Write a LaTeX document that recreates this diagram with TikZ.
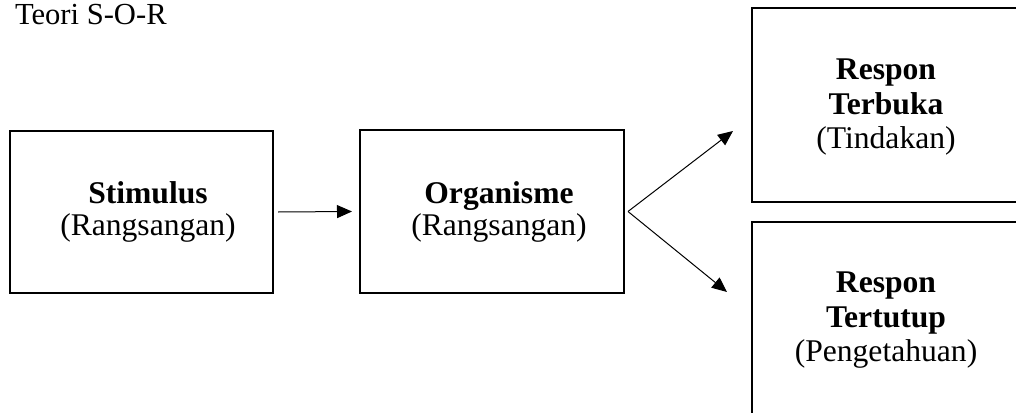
\documentclass[tikz,border=0pt]{standalone}
\usepackage{fontspec}
\setmainfont{Liberation Serif}
\usetikzlibrary{arrows.meta}
\begin{document}
\begin{tikzpicture}[x=1pt,y=-1pt,
  box/.style={draw=black,line width=2pt,minimum width=#1,inner sep=0pt,outer sep=0pt},
  txt/.style={anchor=base,inner sep=0pt,outer sep=0pt,font=\fontsize{31.6}{36}\selectfont},
  arr/.style={line width=1pt,-{Triangle[length=15pt,width=13pt]}}]
\useasboundingbox (0,0) rectangle (1016,412);
% title
\node[txt,anchor=base west,font=\fontsize{30.6}{36}\selectfont] (title) at (15,25) {Teori S-O-R};
% boxes
\node[box=263pt,minimum height=162pt] (stim) at (141.5,212) {};
\node[box=264pt,minimum height=163pt] (org) at (492,211.5) {};
\node[box=266pt,minimum height=194pt] (rt) at (885,105) {};
\node[box=266pt,minimum height=198pt] (rb) at (885,321) {};
% texts
\node[txt] (stimA) at (148,203) {\textbf{Stimulus}};
\node[txt] (stimB) at (148,235) {(Rangsangan)};
\node[txt] (orgA) at (499,203) {\textbf{Organisme}};
\node[txt] (orgB) at (499,235) {(Rangsangan)};
\node[txt] (rtA) at (886,79) {\textbf{Respon}};
\node[txt] (rtB) at (886,114) {\textbf{Terbuka}};
\node[txt] (rtC) at (886,148) {(Tindakan)};
\node[txt] (rbA) at (886,292) {\textbf{Respon}};
\node[txt] (rbB) at (886,327) {\textbf{Tertutup}};
\node[txt] (rbC) at (886,361) {(Pengetahuan)};
% connectors
\coordinate (up) at (733,131);
\coordinate (down) at (727,292);
\draw[arr] ([xshift=5pt]stim.east) -- ([xshift=-8pt]org.west);
\draw[arr] ([xshift=4pt]org.east) -- (up);
\draw[arr] ([xshift=4pt]org.east) -- (down);
\end{tikzpicture}
\end{document}
